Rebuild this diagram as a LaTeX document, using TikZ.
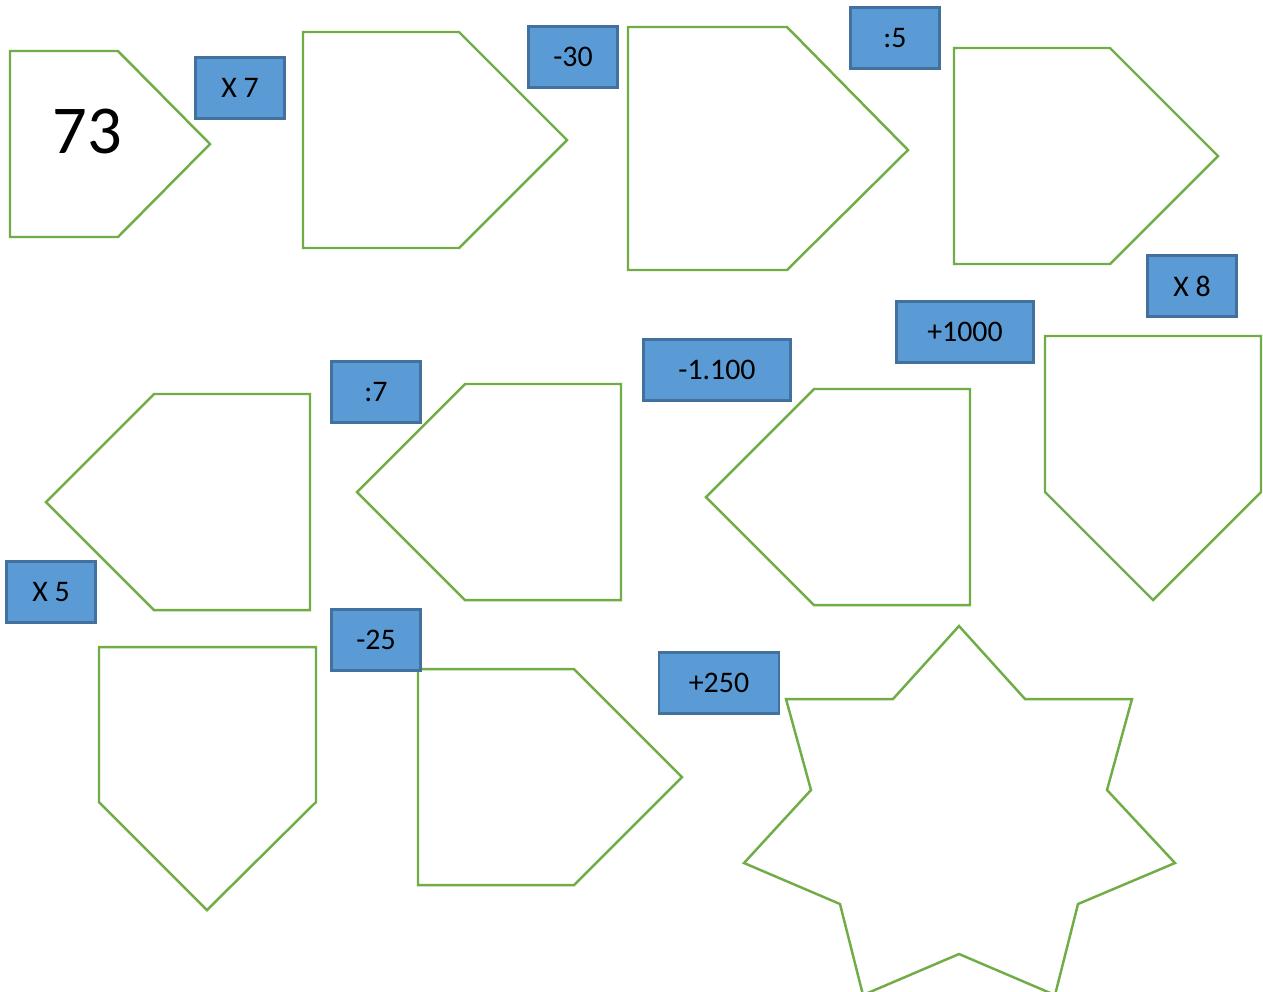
\documentclass[tikz,border=0pt]{standalone}
\usepackage{fontspec}
\setmainfont{Carlito}
\definecolor{shapegreen}{HTML}{70AD47}
\definecolor{boxfill}{HTML}{5B9BD5}
\definecolor{boxline}{HTML}{41719C}
\begin{document}
\begin{tikzpicture}[x=0.1mm, y=-0.1mm,
  opbox/.style={draw=boxline, fill=boxfill, line width=0.6pt, minimum width=8.9mm, minimum height=6.1mm, inner sep=0pt, font=\fontsize{8.5}{10}\selectfont},
  outline/.style={draw=shapegreen, line width=0.7pt, line join=miter}]
\clip (0,0) rectangle (1263,991);
\fill[white] (0,0) rectangle (1263,991);
% first row, pointing right
\draw[outline] (10,51) -- (118,51) -- (210,144) -- (118,237) -- (10,237) -- cycle;
\draw[outline] (303,32) -- (459,32) -- (567,140) -- (459,248) -- (303,248) -- cycle;
\draw[outline] (628,27) -- (787,27) -- (908,150) -- (787,270) -- (628,270) -- cycle;
\draw[outline] (954,48) -- (1110,48) -- (1218,156) -- (1110,264) -- (954,264) -- cycle;
\node[font=\fontsize{19.5}{22}\selectfont] (start) at (87,131) {73};
% second row, pointing left and down
\draw[outline] (310,394) -- (154,394) -- (46,502) -- (154,610) -- (310,610) -- cycle;
\draw[outline] (621,384) -- (465,384) -- (357,492) -- (465,600) -- (621,600) -- cycle;
\draw[outline] (970,389) -- (814,389) -- (706,497) -- (814,605) -- (970,605) -- cycle;
\draw[outline] (1045,336) -- (1261,336) -- (1261,492) -- (1153,600) -- (1045,492) -- cycle;
% third row
\draw[outline] (99,647) -- (316,647) -- (316,802) -- (207,910) -- (99,802) -- cycle;
\draw[outline] (418,669) -- (574,669) -- (682,777) -- (574,885) -- (418,885) -- cycle;
% seven pointed star
\draw[outline] (959,626) -- (1025,699) -- (1132,699) -- (1107,790) -- (1175,863)
  -- (1078,904) -- (1055,995) -- (959,954) -- (863,995) -- (840,904) -- (744,863)
  -- (811,790) -- (786,699) -- (893,699) -- cycle;
% operations
\node[opbox] (times7) at (240,88) {X 7};
\node[opbox] (minus30) at (573,57) {-30};
\node[opbox] (div5) at (895,38) {:5};
\node[opbox] (times8) at (1192,286) {X 8};
\node[opbox, minimum width=13.7mm] (plus1000) at (965,332) {+1000};
\node[opbox, minimum width=14.7mm] (minus1100) at (717,370) {-1.100};
\node[opbox] (div7) at (376,392) {:7};
\node[opbox] (times5) at (51,592) {X 5};
\node[opbox] (minus25) at (376,640) {-25};
\node[opbox, minimum width=12mm] (plus250) at (719,683) {+250};
\end{tikzpicture}
\end{document}
